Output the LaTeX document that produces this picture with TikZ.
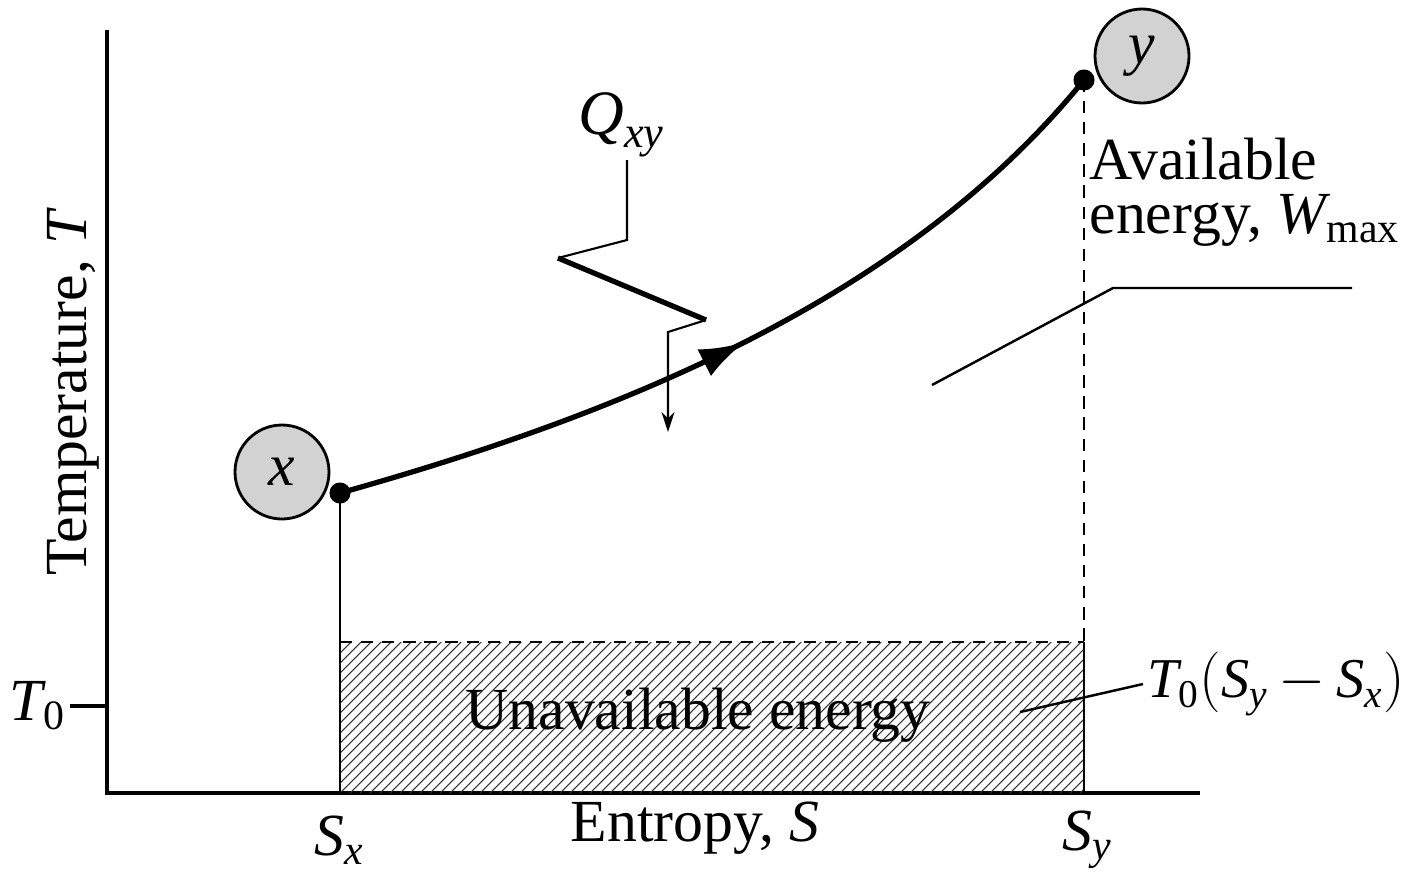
\documentclass[tikz,border=0pt]{standalone}
\usepackage{amsmath}
\usepackage{fontspec}
\setmainfont{Liberation Serif}
\usetikzlibrary{arrows.meta,positioning,calc,decorations.markings}
\newcommand{\vi}[1]{\textit{#1}}
\tikzset{
  ax/.style={line width=0.9pt},
  dsh/.style={line width=0.8pt, dash pattern=on 3.5pt off 2.5pt},
  proc/.style={line width=1.5pt, postaction={decorate, decoration={markings,
      mark=at position 0.5 with {\arrow{Latex[length=4.5mm,width=3mm]}}}}},
  state/.style={circle, draw, line width=0.8pt, fill=gray!35, minimum size=0.94cm, inner sep=0pt},
  dot/.style={circle, fill=black, minimum size=6pt, inner sep=0pt},
  lbl/.style={font=\fontsize{17}{15.5}\selectfont},
  lead/.style={line width=0.7pt},
  heat/.style={line width=0.6pt},
  hatchln/.style={line width=0.3pt, black!80},
}

\begin{document}
\begin{tikzpicture}
    \useasboundingbox (0,0) rectangle (14.15,8.82);
    % axes
    \coordinate (o) at (1.07,0.89);
    \coordinate (ytop) at (1.07,8.52);
    \coordinate (xend) at (12.00,0.89);
    \coordinate (t0) at (0.70,1.76);
    \draw[ax] (ytop) -- (o) -- (xend);
    \draw[ax] (t0) -- (t0 -| o);
    \node[lbl, anchor=east, inner sep=1pt] (t0lbl) at (t0) {$\vi{T}_{\textup{0}}$};
    \node[lbl, rotate=90] (tlbl) at (0.73,4.90) {Temperature, \vi{T}};
    \node[lbl] (slbl) at (6.95,0.54) {Entropy, \vi{S}};
    % unavailable energy
    \coordinate (r1) at (3.40,0.89);
    \coordinate (r2) at (10.84,2.40);
    \begin{scope}
      \clip (r1) rectangle (r2);
      \foreach \i in {0,...,92}
        \draw[hatchln] ($(r1)+(\i*0.1-1.6,0)$) -- ++(1.6,1.6);
    \end{scope}
    \draw[dsh] (r1 |- r2) -- (r2);
    \node[lbl] (unav) at (6.98,1.67) {Unavailable energy};
    % states and process
    \node[dot] (px) at (3.40,3.89) {};
    \node[dot] (py) at (10.84,8.02) {};
    \node[state] (sx) at (2.82,4.10) {\fontsize{17}{18}\selectfont\vi{x}};
    \node[state] (sy) at (11.42,8.26) {\fontsize{17}{18}\selectfont\vi{y}};
    \draw[line width=0.7pt] (px.center) -- (r1);
    \draw[dsh] (py.center) -- (r2);
    \draw[line width=0.7pt] (r2) -- (r2 |- o);
    \draw[proc] (px.center) .. controls (6.0,4.62) and (9.0,5.75) .. (py.center);
    \node[lbl] (sxl) at (3.40,0.42) {$\vi{S}_{\vi{x}}$};
    \node[lbl] (syl) at (10.88,0.42) {$\vi{S}_{\vi{y}}$};
    % heat
    \node[font=\fontsize{18}{18}\selectfont] (qlbl) at (6.22,7.57) {$\vi{Q}_{\vi{xy}}$};
    \coordinate (q1) at (6.27,7.22);
    \coordinate (q2) at (6.27,6.42);
    \coordinate (q3) at (5.58,6.24);
    \coordinate (q4) at (7.06,5.62);
    \coordinate (q5) at (6.68,5.50);
    \coordinate (q6) at (6.68,4.50);
    \draw[heat] (q1) -- (q2) -- (q3);
    \draw[line width=1.5pt, line join=miter] (q3) -- (q4);
    \draw[heat, -{Stealth[length=2mm,width=1.3mm]}] (q4) -- (q5) -- (q6);
    % labels with leaders
    \node[lbl, align=left] (avail) at (12.45,6.90) {Available\\energy, $\vi{W}_{\textup{max}}$};
    \coordinate (a1) at (9.32,4.97);
    \coordinate (a2) at (11.13,5.94);
    \coordinate (a3) at (13.52,5.94);
    \draw[lead] (a1) -- (a2) -- (a3);
    \node[font=\fontsize{16}{16}\selectfont, anchor=west, inner sep=1pt] (wlbl) at (11.43,1.98) {$\vi{T}_{\textup{0}}(\vi{S}_{\vi{y}}{\,-\,}\vi{S}_{\vi{x}})$};
    \coordinate (b1) at (10.20,1.70);
    \draw[lead] (b1) -- (wlbl.west);
\end{tikzpicture}
\end{document}
